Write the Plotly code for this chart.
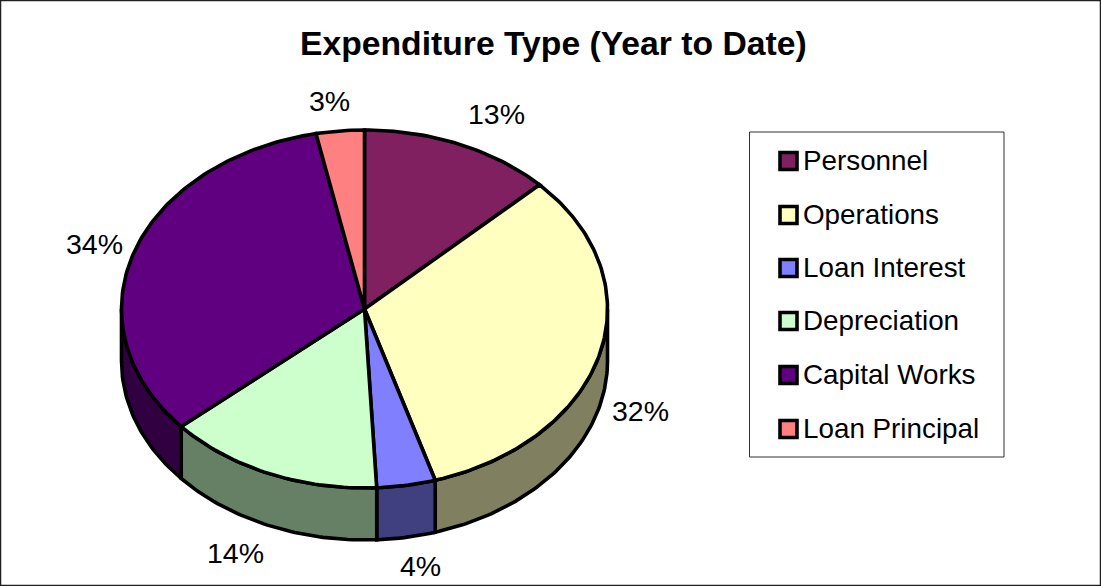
"""Expenditure Type pie, Excel style 3D, drawn on a pixel sized plane."""

import numpy as np
import plotly.graph_objects as go

WIDTH = 1101
HEIGHT = 586
FONT = "Liberation Sans"

CATEGORIES = ["Personnel", "Operations", "Loan Interest", "Depreciation", "Capital Works", "Loan Principal"]
SHARES = [12.8, 32.5, 3.9, 14.4, 33.2, 3.2]
SHARE_LABELS = ["13%", "32%", "4%", "14%", "34%", "3%"]
TOP_COLORS = ["#802060", "#FFFFC0", "#8080FF", "#CCFFCC", "#600080", "#FF8080"]
WALL_COLORS = ["#401030", "#808060", "#404080", "#668066", "#300040", "#804040"]

# pie geometry in pixels
CX, CY = 364.5, 309
RX, RY = 243, 179
DEPTH = 52

LABEL_POS = [(496, 114), (640, 411), (420, 566), (235, 553), (94, 244), (329, 101)]
LEGEND_Y = [161, 215, 268, 321, 375, 429]


def _rim(a0, a1, drop=0):
    """Ellipse points between two clockwise angles (radians from 12 o'clock)."""
    a = np.linspace(a0, a1, max(int(abs(a1 - a0) * 60), 2))
    return CX + RX * np.sin(a), CY - RY * np.cos(a) + drop


def _poly(x, y, color):
    return go.Scatter(
        x=x, y=y, mode="lines", fill="toself", fillcolor=color,
        line=dict(color="black", width=3.6), hoverinfo="skip", showlegend=False,
    )


fig = go.Figure()

edges = np.cumsum([0] + SHARES) / 100 * 2 * np.pi

# side walls, only the front half of the disc shows
for i in range(len(SHARES)):
    a0 = max(edges[i], np.pi / 2)
    a1 = min(edges[i + 1], 3 * np.pi / 2)
    if a1 <= a0:
        continue
    tx, ty = _rim(a0, a1)
    bx, by = _rim(a1, a0, DEPTH)
    fig.add_trace(_poly(np.r_[tx, bx, tx[0]], np.r_[ty, by, ty[0]], WALL_COLORS[i]))

# top face
for i in range(len(SHARES)):
    x, y = _rim(edges[i], edges[i + 1])
    fig.add_trace(_poly(np.r_[CX, x, CX], np.r_[CY, y, CY], TOP_COLORS[i]))

# legend swatches
fig.add_trace(go.Scatter(
    x=[788.5] * len(CATEGORIES), y=LEGEND_Y, mode="markers",
    marker=dict(symbol="square", size=17, color=TOP_COLORS, line=dict(color="black", width=3.6)),
    hoverinfo="skip", showlegend=False,
))

for (lx, ly), txt in zip(LABEL_POS, SHARE_LABELS):
    fig.add_annotation(x=lx, y=ly, text=txt, showarrow=False, font=dict(size=28.5, color="black"))

for name, ly in zip(CATEGORIES, LEGEND_Y):
    fig.add_annotation(x=801, y=ly - 1, text=name, showarrow=False, xanchor="left", font=dict(size=27.8, color="black"))

fig.add_annotation(
    x=553, y=43, text="<b>Expenditure Type (Year to Date)</b>", showarrow=False,
    font=dict(size=33.7, color="black"),
)

# chart frame and legend frame
fig.add_shape(type="rect", x0=0.5, y0=0.5, x1=1100.5, y1=585.5, line=dict(color="#202020", width=1.5), layer="below")
fig.add_shape(type="rect", x0=749.5, y0=132, x1=1004, y1=457, line=dict(color="#303030", width=1), layer="below")

fig.update_layout(
    width=WIDTH, height=HEIGHT,
    margin=dict(l=0, r=0, t=0, b=0),
    paper_bgcolor="white", plot_bgcolor="white",
    font=dict(family=FONT),
    xaxis=dict(range=[0, WIDTH], visible=False, fixedrange=True),
    yaxis=dict(range=[HEIGHT, 0], visible=False, fixedrange=True),
    showlegend=False,
)

fig.write_html("out.html", post_script="document.body.style.margin='0';", config=dict(displayModeBar=False))
